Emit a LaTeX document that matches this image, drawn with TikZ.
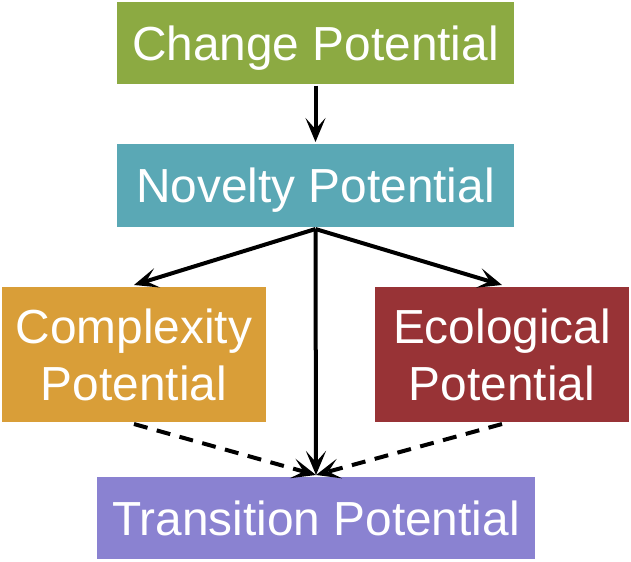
\documentclass[tikz,border=0pt]{standalone}
\usepackage{fontspec}
\setmainfont{Liberation Sans}
\usetikzlibrary{arrows.meta}
\definecolor{changeC}{HTML}{8CAA42}
\definecolor{noveltyC}{HTML}{5AA8B5}
\definecolor{complexC}{HTML}{D99E38}
\definecolor{ecoC}{HTML}{983336}
\definecolor{transC}{HTML}{8A82D1}

\begin{document}
\begin{tikzpicture}[->,>={Stealth[length=0.6cm,width=0.5cm,inset=0.28cm]},x=0.025cm,y=-0.025cm,
	line width=0.1cm,
	pot node/.style={rectangle,text=white,align=center,inner sep=0pt,text depth=0pt,
		font=\fontsize{34}{40.5}\selectfont}]
	\useasboundingbox (0,0) rectangle (631,561);
	
	\node[pot node,fill=changeC,minimum width=9.925cm,minimum height=2.025cm] (change) at (315.5,43) {Change Potential};
	\node[pot node,fill=noveltyC,minimum width=9.925cm,minimum height=2.075cm] (novelty) at (315.5,185.5) {Novelty Potential};
	\node[pot node,fill=complexC,minimum width=6.6cm,minimum height=3.375cm] (complex) at (134,354.5) {Complexity\\Potential};
	\node[pot node,fill=ecoC,minimum width=6.35cm,minimum height=3.375cm] (eco) at (502,354.5) {Ecological\\Potential};
	\node[pot node,fill=transC,minimum width=10.95cm,minimum height=2.05cm] (trans) at (316,518) {Transition Potential};
	
	\path
	(change) edge (novelty)
	(novelty.south) edge (complex.north)
	(novelty.south) edge (eco.north)
	(novelty.south) edge (trans.north)
	(complex.south) edge [dash pattern=on 0.35cm off 0.24cm] (trans.north)
	(eco.south) edge [dash pattern=on 0.35cm off 0.24cm] (trans.north)
	;
\end{tikzpicture}
\end{document}
